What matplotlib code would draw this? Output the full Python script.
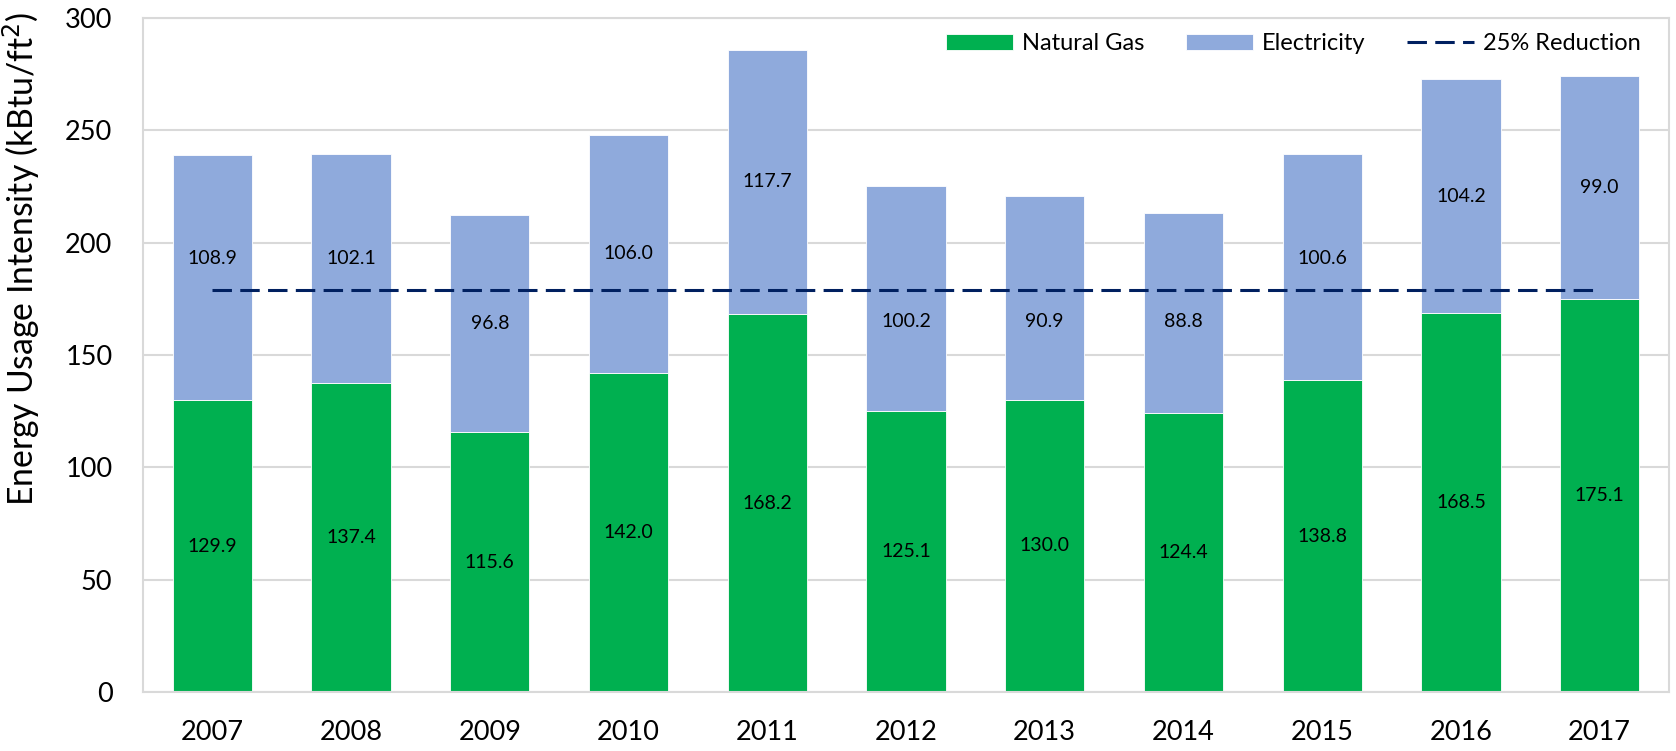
import matplotlib
matplotlib.use("Agg")
import matplotlib.pyplot as plt
import numpy as np

plt.rcParams['font.family'] = ['Lato', 'DejaVu Sans']
plt.rcParams['lines.scale_dashes'] = False

# data
years = ['2007', '2008', '2009', '2010', '2011', '2012', '2013', '2014', '2015', '2016', '2017']
natural_gas = [129.9, 137.4, 115.6, 142.0, 168.2, 125.1, 130.0, 124.4, 138.8, 168.5, 175.1]
electricity = [108.9, 102.1, 96.8, 106.0, 117.7, 100.2, 90.9, 88.8, 100.6, 104.2, 99.0]
# target = 75% of the 2007 total
target = 0.75 * (natural_gas[0] + electricity[0])

green = '#00B050'
blue = '#8FAADC'
navy = '#002060'
grid = '#D9D9D9'

fig = plt.figure(figsize=(16.76, 7.51), dpi=100)
ax = fig.add_axes([143/1676, 59/751, (1669-143)/1676, (692-18)/751])

x = np.arange(len(years))
w = 1/1.75
b1 = ax.bar(x, natural_gas, w, color=green, edgecolor='white', linewidth=0.6, label='Natural Gas', zorder=2)
b2 = ax.bar(x, electricity, w, bottom=natural_gas, color=blue, edgecolor='white', linewidth=0.6,
            label='Electricity', zorder=2)
ln, = ax.plot([x[0], x[-1]], [target, target], color=navy, lw=2.2, dashes=(14, 6),
              label='25% Reduction', zorder=3)

# value labels, electricity ones nudged off the dashed line
for i in range(len(years)):
    ax.text(x[i], natural_gas[i]/2, f'{natural_gas[i]:.1f}', ha='center', va='center',
            fontsize=14, color='black', zorder=4)
    yc = natural_gas[i] + electricity[i]/2
    if abs(yc - target) < 14:
        yc = target + 14 if yc >= target else target - 14
    ax.text(x[i], yc, f'{electricity[i]:.1f}', ha='center', va='center',
            fontsize=14, color='black', zorder=4)

ax.set_xlim(-0.5, len(years) - 0.5)
ax.set_ylim(0, 300)
ax.set_yticks(np.arange(0, 301, 50))
ax.set_xticks(x)
ax.set_xticklabels(years)
ax.tick_params(axis='both', length=0, labelsize=19.5, colors='black')
ax.tick_params(axis='x', pad=20)
ax.tick_params(axis='y', pad=22)
ax.yaxis.grid(True, color=grid, lw=1.5, zorder=0)
ax.set_axisbelow(True)
for s in ax.spines.values():
    s.set_color(grid)
    s.set_linewidth(1.5)

fig.text(21/1676, 1 - 259/751, 'Energy Usage Intensity (kBtu/ft$^2$)', rotation=90,
         ha='center', va='center', fontsize=24.3)

ax.legend([b1, b2, ln], ['Natural Gas', 'Electricity', '25% Reduction'],
          loc='center right', bbox_to_anchor=((1641-143)/(1669-143), 1-(44-18)/(692-18)),
          ncol=3, frameon=False, fontsize=17, borderpad=0, borderaxespad=0,
          handlelength=2.84, handleheight=0.67, handletextpad=0.38, columnspacing=1.76)

fig.savefig('out.png', dpi=100, facecolor='white')
